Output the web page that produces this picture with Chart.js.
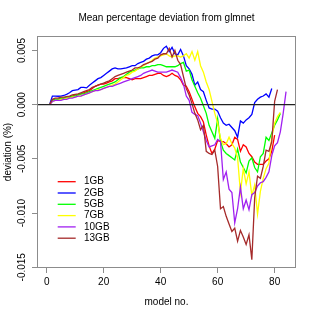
<!DOCTYPE html>
<html><head><meta charset="utf-8">
<script src="https://cdn.jsdelivr.net/npm/chart.js@4.4.1/dist/chart.umd.min.js"></script>
<style>html,body{margin:0;padding:0;background:#fff}#wrap{width:315px;height:315px}</style>
</head><body><div id="wrap"><canvas id="c" width="315" height="315"></canvas></div>
<script>
const seriesNames = ['1GB','2GB','5GB','7GB','10GB','13GB'];
const seriesColors = ['#FF0000','#0000FF','#00FF00','#FFFF00','#A020F0','#A52A2A'];

const dev1GB = [0,0.0004,0.0005,0.0005,0.0006,0.0006,0.0007,0.0007,0.0008,0.0009,
 0.0009,0.0010,0.0011,0.0012,0.0013,0.0015,0.0017,0.0018,0.0019,0.0019,
 0.0020,0.0021,0.0022,0.0024,0.0024,0.0025,0.0025,0.0025,0.0024,0.0023,
 0.0024,0.0024,0.0024,0.0025,0.0026,0.0027,0.0027,0.0028,0.0029,0.0029,
 0.0027,0.0026,0.0027,0.0029,0.0027,0.0026,0.0023,0.0018,0.0017,0.0012,
 0.0005,-0.0002,-0.0008,-0.0011,-0.0016,-0.0028,-0.0038,-0.0045,-0.0041,-0.0033,
 -0.0034,-0.0034,-0.0036,-0.0039,-0.0037,-0.0030,-0.0032,-0.0043,-0.0037,-0.0039,
 -0.0045,-0.0048,-0.0053,-0.0055,-0.0055,-0.0055,-0.0052,-0.0050,-0.0043,-0.0028];

const dev2GB = [0,0.0008,0.0008,0.00078,0.0008,0.00085,0.00095,0.0011,0.0013,0.00135,
 0.0014,0.0016,0.0016,0.00155,0.0018,0.0020,0.0022,0.0024,0.0025,0.0027,
 0.0029,0.0031,0.0033,0.0034,0.0033,0.0033,0.00335,0.0034,0.0035,0.0036,
 0.0036,0.0038,0.0039,0.0040,0.0042,0.0043,0.0045,0.0046,0.0046,0.0048,
 0.0052,0.0054,0.0049,0.0053,0.0047,0.0046,0.0051,0.0045,0.0036,0.0033,
 0.0028,0.0018,0.0021,0.0014,0.0012,0.0004,-0.0003,-0.0004,-0.0004,-0.0006,
 -0.0012,-0.0017,-0.0019,-0.0018,-0.0021,-0.0024,-0.0030,-0.0015,-0.0017,-0.0014,
 -0.0012,-0.0009,0.0002,0.0005,0.0007,0.0008,0.0010,0.0007,0.0015];

const dev5GB = [0,0.0004,0.0005,0.0005,0.0006,0.0006,0.0007,0.0007,0.0008,0.0008,
 0.0009,0.0010,0.0010,0.0011,0.0012,0.0013,0.0014,0.0015,0.0016,0.0017,
 0.0018,0.0019,0.0020,0.0021,0.0023,0.0025,0.0026,0.0028,0.0030,0.0031,
 0.0032,0.0033,0.0034,0.0034,0.0035,0.0035,0.0036,0.0036,0.0037,0.0037,
 0.0036,0.0035,0.0035,0.0035,0.0035,0.0036,0.0038,0.0039,0.0031,0.0032,
 0.0023,0.0017,0.0011,0.0006,-0.0001,-0.0008,-0.0019,-0.0025,-0.0031,-0.0013,
 -0.0034,-0.0042,-0.0045,-0.0047,-0.0049,-0.0051,-0.0041,-0.0053,-0.0058,-0.0063,
 -0.0052,-0.0049,-0.0058,-0.0062,-0.0048,-0.0045,-0.0030,-0.0033,-0.0026,-0.0019,
 -0.0014,-0.0008];

const dev7GB = [0,0.0003,0.0004,0.0004,0.0005,0.0005,0.0006,0.0006,0.0007,0.0007,
 0.0008,0.0008,0.0009,0.0010,0.0011,0.0012,0.0013,0.0014,0.0014,0.0015,
 0.0016,0.0017,0.0018,0.0019,0.0021,0.0023,0.0025,0.0027,0.0028,0.0030,
 0.0031,0.0033,0.0035,0.0036,0.0038,0.0039,0.0041,0.0043,0.0044,0.0045,
 0.0046,0.0047,0.0045,0.0044,0.0045,0.0045,0.0044,0.0045,0.0047,0.0043,
 0.0049,0.0041,0.0049,0.0036,0.0030,0.0021,0.0014,0.0003,-0.0008,-0.0017,
 -0.0031,-0.0037,-0.0036,-0.0030,-0.0036,-0.0040,-0.0049,-0.0081,-0.0059,-0.0073,
 -0.0062,-0.0084,-0.0074,-0.0101,-0.0080,-0.0068,-0.0059,-0.0054,-0.0030,-0.0017,
 -0.0011,-0.0007];

const dev10GB = [0,0.0003,0.0004,0.0004,0.0004,0.0005,0.0005,0.0006,0.0006,0.0007,
 0.0008,0.0008,0.0009,0.0010,0.0011,0.0012,0.0013,0.0013,0.0014,0.0015,
 0.0016,0.0017,0.0017,0.0018,0.0019,0.0020,0.0021,0.0022,0.0023,0.0024,
 0.0025,0.0026,0.0027,0.0029,0.0030,0.0031,0.0032,0.0031,0.0030,0.0030,
 0.0030,0.0030,0.0031,0.0032,0.0031,0.0030,0.0025,0.0019,0.0008,0.0004,
 -0.0007,-0.0009,-0.0010,-0.0017,-0.0025,-0.0033,-0.0039,-0.0038,-0.0037,-0.0032,
 -0.0034,-0.0069,-0.0062,-0.0078,-0.0081,-0.0109,-0.0096,-0.0076,-0.0096,-0.0088,
 -0.0097,-0.0083,-0.0081,-0.0075,-0.0072,-0.0071,-0.0067,-0.0062,-0.0047,-0.0038,
 -0.0035,-0.0025,-0.0008,0.0012];

const dev13GB = [0,0.0005,0.0006,0.0006,0.0007,0.0007,0.00075,0.0008,0.0009,0.00095,
 0.0010,0.0011,0.0012,0.0013,0.0014,0.0016,0.0017,0.0018,0.0019,0.0020,
 0.0021,0.0022,0.0024,0.0026,0.0027,0.0028,0.0029,0.0030,0.0031,0.0032,
 0.0034,0.0034,0.0035,0.0037,0.0038,0.0039,0.0040,0.0042,0.0043,0.0046,
 0.0047,0.0047,0.0052,0.0044,0.0050,0.0041,0.0037,0.0026,0.0015,0.0009,
 0.0001,-0.0008,-0.0014,-0.0023,-0.0019,-0.0043,-0.0045,-0.0046,-0.0042,-0.0057,
 -0.0096,-0.0094,-0.0103,-0.0110,-0.0117,-0.0114,-0.0126,-0.0116,-0.0122,-0.0129,
 -0.0120,-0.0143,-0.0086,-0.0066,-0.0068,-0.0057,-0.0042,-0.0043,-0.0034,0.0003,
 0.0014];

const xTicks = [0, 20, 40, 60, 80];
const yTicks = [-0.015, -0.010, -0.005, 0, 0.005];
const yTickLabels = ['-0.015', '-0.010', '-0.005', '0.000', '0.005'];
const titleText = 'Mean percentage deviation from glmnet';
const xTitle = 'model no.';
const yTitle = 'deviation (%)';

const allSeries = [dev1GB, dev2GB, dev5GB, dev7GB, dev10GB, dev13GB];
const FONT = '"Liberation Sans", Arial, Helvetica, sans-serif';

const datasets = allSeries.map((vals, i) => ({
  label: seriesNames[i],
  data: vals.map((v, k) => ({x: k + 1, y: v})),
  borderColor: seriesColors[i],
  backgroundColor: seriesColors[i],
  borderWidth: 1.3,
  pointRadius: 0,
  tension: 0,
  fill: false,
  order: allSeries.length - 1 - i
}));

const rPlot = {
  id: 'rPlot',
  afterDatasetsDraw(chart) {
    const ctx = chart.ctx, a = chart.chartArea, ys = chart.scales.y;
    const y0 = ys.getPixelForValue(0);
    ctx.save();
    ctx.strokeStyle = '#222';
    ctx.lineWidth = 1.2;
    ctx.beginPath(); ctx.moveTo(a.left, y0); ctx.lineTo(a.right, y0); ctx.stroke();
    ctx.strokeStyle = '#8c8c8c';
    ctx.lineWidth = 1;
    ctx.strokeRect(Math.round(a.left) + 0.5, Math.round(a.top) + 0.5,
      Math.round(a.right - a.left) - 1, Math.round(a.bottom - a.top) - 1);
    // legend
    ctx.font = '10px ' + FONT;
    ctx.textBaseline = 'middle';
    ctx.textAlign = 'left';
    chart.data.datasets.forEach((ds, i) => {
      const y = a.top + 145.7 + i * 11.3;
      ctx.strokeStyle = ds.borderColor; ctx.lineWidth = 1.3;
      ctx.beginPath(); ctx.moveTo(a.left + 20.7, y); ctx.lineTo(a.left + 38.7, y); ctx.stroke();
      ctx.fillStyle = '#000';
      ctx.fillText(ds.label, a.left + 47, y);
    });
    ctx.restore();
  }
};

new Chart(document.getElementById('c'), {
  type: 'line',
  data: { datasets },
  options: {
    responsive: false,
    animation: false,
    devicePixelRatio: 1,
    layout: { padding: { left: 0, right: 19, top: 0, bottom: 0 } },
    plugins: {
      legend: { display: false },
      tooltip: { enabled: false },
      title: {
        display: true, text: titleText, fullSize: false,
        color: '#000', font: { family: FONT, size: 10, weight: 'normal' },
        padding: { top: 12, bottom: 12 }
      }
    },
    scales: {
      x: {
        type: 'linear', min: -3.4, max: 87.5,
        afterBuildTicks: s => { s.ticks = xTicks.map(v => ({value: v})); },
        afterFit: s => { s.height = 47; },
        grid: { display: true, drawOnChartArea: false, drawTicks: true, tickLength: 5, color: '#8c8c8c' },
        border: { display: false },
        ticks: { color: '#000', font: { family: FONT, size: 10 }, padding: 3, maxRotation: 0, minRotation: 0,
          callback: v => String(v) },
        title: { display: true, text: xTitle, color: '#000', font: { family: FONT, size: 10 }, padding: { top: 0, bottom: 7 } }
      },
      y: {
        type: 'linear', min: -0.01507, max: 0.00634,
        afterBuildTicks: s => { s.ticks = yTicks.map(v => ({value: v})); },
        afterFit: s => { s.width = 37; },
        grid: { display: true, drawOnChartArea: false, drawTicks: true, tickLength: 5, color: '#8c8c8c' },
        border: { display: false },
        ticks: { color: '#000', font: { family: FONT, size: 10 }, padding: -4, minRotation: 90, maxRotation: 90,
          crossAlign: 'center',
          callback: v => { const k = yTicks.findIndex(t => Math.abs(t - v) < 1e-9); return k >= 0 ? yTickLabels[k] : ''; } },
        title: { display: true, text: yTitle, color: '#000', font: { family: FONT, size: 10 }, padding: { top: 2, bottom: 0 } }
      }
    }
  },
  plugins: [rPlot]
});
</script>
</body></html>
